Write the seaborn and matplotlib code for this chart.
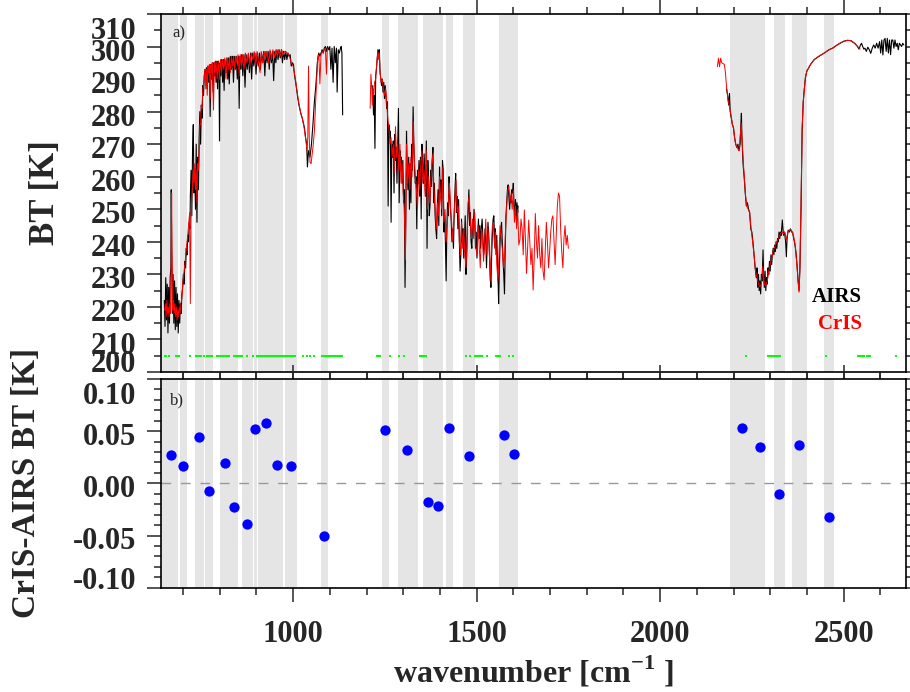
import numpy as np
import matplotlib
matplotlib.use("Agg")
import matplotlib.pyplot as plt
import matplotlib.transforms as mtransforms
from matplotlib.ticker import MultipleLocator, FormatStrFormatter
import seaborn as sns

# ============================================================
# DATA
# ============================================================
# AIRS spectrum, three detector bands: (wavenumber, BT)
airs_band1 = [
    (649, 222), (651, 214), (653, 229), (655, 216), (657, 227), (659, 212), (661, 226), (663, 215),
    (665, 229), (667, 232), (668, 256), (669, 240), (671, 218), (673, 230), (675, 215), (677, 228),
    (679, 213), (681, 226), (683, 214), (685, 224), (687, 212), (689, 222), (691, 215), (693, 221),
    (695, 218), (697, 224), (699, 226), (701, 230), (703, 227), (705, 234), (707, 232), (709, 238),
    (711, 236), (713, 242), (715, 240), (717, 246), (719, 244), (720, 254), (722, 262), (724, 248),
    (726, 268), (728, 276), (730, 255), (732, 262), (734, 250), (736, 270), (738, 246), (740, 266),
    (742, 256), (744, 272), (746, 280), (748, 270), (750, 282), (752, 278), (754, 288), (756, 285),
    (758, 291), (760, 293), (762, 290), (764, 293.5), (766, 287), (768, 294), (770, 289), (772, 294),
    (774, 278.5), (776, 294.5), (778, 290), (780, 295), (782, 286), (784, 295), (786, 291), (788, 295.5),
    (790, 289), (792, 295.5), (794, 287), (796, 295.5), (798, 292), (799.5, 271), (801, 295), (803, 291),
    (805, 296), (808, 289), (810, 296), (812, 286.5), (814, 296), (817, 292), (820, 296.5), (822, 290),
    (824, 296.5), (826, 288.5), (829, 297), (832, 293), (835, 297), (837.5, 289), (840, 297), (843, 293),
    (845, 297), (848, 290), (851, 297), (853, 281), (855, 297), (858, 293), (860, 297.5), (863, 291),
    (866, 297.5), (869, 287.5), (872, 297.5), (875, 293), (878, 297.5), (881, 292), (884, 298), (887, 290),
    (890, 298), (893, 294), (896, 298), (899, 291.5), (902, 298), (905, 294), (908, 298), (911, 293),
    (914, 298), (917, 295), (920, 298.5), (923, 291), (926, 298.5), (929, 295), (932, 298.5), (935, 293),
    (938, 298.5), (941, 295), (944, 298.5), (947, 289.5), (950, 298.5), (953, 295), (956, 299), (959, 296),
    (962, 299), (965, 296.5), (968, 299), (971, 295), (974, 298.5), (977, 296), (980, 298.5), (983, 296),
    (986, 298), (989, 297), (992, 297.5), (995, 294), (998, 295), (1001, 294.5), (1004, 291), (1007, 289),
    (1010, 286.5), (1013, 284), (1016, 282), (1019, 280.5), (1022, 279), (1025, 278), (1028, 276.5),
    (1031, 275), (1034, 272), (1037, 270), (1039, 263), (1042, 268), (1046, 266), (1050, 270), (1054, 276),
    (1058, 283), (1062, 288), (1066, 295), (1068, 297), (1070, 298), (1073, 297), (1076, 298), (1079, 299),
    (1082, 298), (1085, 299.5), (1088, 300), (1091, 298.5), (1094, 300), (1097, 299), (1100, 300),
    (1103, 293), (1106, 299.5), (1109, 289), (1112, 300), (1115, 295), (1118, 299.5), (1120, 286),
    (1123, 299), (1126, 298), (1129, 299.5), (1131, 300), (1133, 298), (1135, 279),
]
airs_band2 = [
    (1217, 288), (1219, 279), (1221, 285), (1223, 268.7), (1225, 291), (1227, 293), (1229, 296), (1231, 299),
    (1233, 297), (1235, 299), (1237, 292), (1239, 290), (1241, 288), (1243, 290), (1245, 286), (1247, 289),
    (1249, 284), (1251, 288), (1253, 285), (1255, 281), (1257, 283), (1259, 251), (1261, 276), (1263, 272),
    (1265, 274), (1267, 246), (1269, 270), (1271, 266), (1273, 271), (1275, 255), (1277, 273), (1279, 265),
    (1281, 269), (1283, 258), (1285, 270), (1287, 281), (1289, 252), (1291, 268), (1293, 262), (1295, 266),
    (1297, 258), (1299, 265), (1301, 252), (1303, 256), (1305, 226), (1307, 246), (1309, 274), (1311, 262),
    (1313, 256), (1315, 266), (1317, 250), (1319, 264), (1321, 252), (1323, 270), (1325, 262), (1327, 281.5),
    (1329, 270), (1331, 262), (1333, 258), (1335, 260), (1337, 244), (1339, 262), (1341, 258), (1343, 265),
    (1345, 254), (1347, 266), (1349, 247), (1351, 270), (1353, 262), (1355, 258), (1357, 267), (1359, 260),
    (1361, 254), (1363, 271), (1365, 238), (1367, 265), (1369, 259), (1371, 248), (1373, 251), (1375, 262),
    (1377, 257), (1379, 265), (1381, 269), (1383, 252), (1385, 258), (1387, 248), (1389, 244), (1391, 241),
    (1393, 250), (1395, 256), (1397, 245), (1399, 263), (1401, 255), (1403, 259), (1405, 248), (1407, 265),
    (1409, 262), (1411, 243), (1413, 248), (1415, 240), (1417, 228), (1419, 245), (1421, 252), (1423, 248),
    (1425, 260), (1427, 254), (1429, 250), (1431, 246), (1433, 240), (1435, 244), (1437, 238), (1439, 249),
    (1441, 256), (1443, 261), (1445, 249), (1447, 254), (1449, 244), (1451, 253), (1453, 240), (1455, 231),
    (1457, 236), (1459, 247), (1461, 240), (1463, 244), (1465, 235), (1467, 242), (1469, 248), (1471, 230),
    (1473, 236), (1475, 246), (1477, 250), (1479, 256), (1481, 245), (1483, 249), (1485, 240), (1487, 238),
    (1489, 246), (1491, 244), (1493, 250), (1495, 246), (1497, 238), (1499, 243), (1501, 235), (1503, 242),
    (1505, 247), (1507, 241), (1509, 245), (1511, 238), (1513, 244), (1515, 247), (1517, 242), (1519, 236),
    (1521, 238), (1523, 244), (1525, 240), (1527, 232), (1529, 240), (1531, 246), (1533, 242), (1535, 236),
    (1537, 230), (1539, 226), (1541, 236), (1543, 242), (1545, 247), (1547, 248), (1549, 240), (1551, 244),
    (1553, 236), (1555, 242), (1557, 233), (1559, 226), (1560, 221), (1562, 232), (1564, 240), (1566, 244),
    (1568, 246), (1570, 240), (1572, 235), (1574, 230), (1576, 224), (1578, 238), (1580, 248), (1582, 252),
    (1584, 256), (1586, 257.5), (1588, 254), (1590, 250), (1592, 254), (1594, 252), (1596, 256), (1598, 255),
    (1600, 258), (1602, 251), (1604, 248), (1606, 253), (1608, 247), (1610, 252), (1612, 249), (1613, 251),
]
airs_band3 = [
    (2181, 287), (2184, 285), (2187, 282), (2189, 285.6), (2191, 280), (2194, 278), (2197, 276), (2200, 275),
    (2203, 272), (2206, 270), (2209, 269), (2212, 270), (2215, 268), (2218, 270), (2220, 276), (2221.5, 279.5),
    (2223, 272), (2226, 264), (2229, 260), (2232, 255), (2235, 251), (2238, 252), (2241, 250), (2244, 249),
    (2247, 244), (2250, 243), (2253, 240), (2256, 236), (2259, 232), (2262, 229), (2264, 232), (2266, 226),
    (2268, 230), (2270, 225), (2272, 228), (2274, 224), (2276, 230), (2278, 228), (2280.5, 237.5), (2282, 230),
    (2284, 226), (2286, 231), (2288, 225), (2290, 229), (2292, 227), (2294, 232), (2296, 230), (2298, 234),
    (2300, 231), (2302, 236), (2304, 233), (2306, 236), (2308, 238), (2310, 236), (2312, 239), (2314, 237),
    (2316, 240), (2318, 238), (2320, 241), (2322, 240), (2324, 243), (2326, 241), (2328, 243), (2330, 242),
    (2333, 246.7), (2336, 242), (2339, 243), (2342, 240), (2344, 235.4), (2346, 241), (2349, 243.6),
    (2352, 243), (2355, 244), (2358, 243), (2361, 243), (2364, 241), (2367, 239.5), (2370, 237), (2373, 233),
    (2376, 228), (2378.5, 225), (2381, 232), (2384, 250), (2387, 274), (2390, 283), (2393, 287),
    (2396, 290.5), (2400, 292.5), (2405, 293.5), (2410, 294.5), (2420, 296), (2430, 296.8), (2440, 297.5),
    (2450, 298.2), (2460, 299), (2470, 299.5), (2480, 300.3), (2490, 301), (2500, 301.6), (2510, 301.9),
    (2520, 301.8), (2530, 301), (2538, 300), (2542, 299.2), (2546, 300.5), (2549, 301), (2552, 300),
    (2555, 299.2), (2558, 299.5), (2562, 298.5), (2566, 299.8), (2570, 299), (2574, 297.9), (2578, 299.5),
    (2582, 300.5), (2586, 299.5), (2590, 301), (2594, 299.5), (2598, 301.5), (2601, 298), (2604, 302),
    (2607, 297.4), (2610, 302), (2613, 302.5), (2616, 298.5), (2619, 302.5), (2622, 298), (2625, 302),
    (2628, 297.5), (2631, 302), (2634, 302), (2637, 299.5), (2640, 302), (2643, 300), (2646, 301),
    (2649, 299), (2652, 301), (2655, 300.5), (2658, 300), (2661, 301), (2664, 300.5),
]

# CrIS spectrum, three bands: (wavenumber, BT)
cris_band1 = [
    (650, 219), (652, 221), (654, 217), (656, 222), (658, 218), (660, 220), (662, 217), (664, 221),
    (666, 218), (668, 235), (669, 255), (670, 238), (672, 219), (674, 222), (676, 218), (678, 221),
    (680, 217), (682, 220), (684, 216), (686, 219), (688, 217), (690, 220), (692, 218), (694, 221),
    (696, 222), (698, 224), (700, 228), (703, 231), (706, 234), (709, 238), (712, 241), (715, 245),
    (718, 249), (720, 221), (722, 248), (724, 254), (726, 258), (728, 262), (730, 258), (732, 264),
    (734, 256), (736, 262), (738, 252), (740, 264), (742, 262), (744, 268), (746, 276), (748, 276),
    (750, 282), (752, 281), (754, 287), (756, 288), (758, 291), (760, 293), (762, 287), (764, 293),
    (766, 285), (768, 294), (770, 292), (772, 294.5), (774, 284), (776, 294.5), (778, 292), (780, 295),
    (783, 280.5), (786, 295), (788, 292), (790, 295.5), (793, 290), (796, 295.5), (799, 290), (802, 296),
    (805, 292), (808, 296), (811, 293), (814, 296.5), (817, 290), (820, 296.5), (823, 293), (826, 296.5),
    (829, 292), (832, 297), (835, 294), (838, 297), (841, 293), (844, 297), (847, 295), (850, 297.5),
    (853, 291), (856, 297.5), (859, 294), (862, 297.5), (866, 293), (870, 298), (874, 295), (878, 298),
    (882, 294), (886, 298), (890, 296), (894, 298.5), (898, 294), (902, 298.5), (906, 295), (910, 292),
    (913, 298.5), (917, 295), (921, 298.5), (925, 296), (929, 298.5), (933, 295), (937, 299), (941, 296),
    (945, 299), (949, 296.5), (953, 299), (957, 297), (961, 299), (965, 297), (969, 299), (973, 297.5),
    (977, 298.5), (981, 298), (985, 298), (990, 297), (995, 295), (1000, 294), (1005, 291), (1010, 287),
    (1015, 283), (1020, 280), (1025, 278), (1030, 275), (1035, 271), (1038, 268), (1040, 272), (1042, 294),
    (1044, 272), (1046, 264.5), (1049, 264), (1052, 267), (1055, 270), (1058, 274), (1061, 282),
    (1064, 289.5), (1067, 296), (1070, 297.5), (1073, 288.5), (1076, 297.5), (1079, 298.5), (1082, 298),
    (1085, 299), (1088, 299.5), (1091, 291.5), (1093, 299), (1095, 299.5),
]
cris_band2 = [
    (1210, 281), (1212, 291.5), (1214, 288), (1216, 282), (1218, 287), (1220, 285), (1222, 289), (1225, 290),
    (1228, 295), (1231, 298.5), (1233, 296), (1235, 298), (1237, 292), (1240, 289), (1243, 290), (1246, 287),
    (1249, 285), (1252, 287), (1255, 283), (1258, 278), (1261, 275), (1264, 270), (1267, 272), (1270, 266),
    (1273, 270), (1276, 261), (1279, 275.4), (1282, 266), (1285, 270), (1288, 262), (1291, 270), (1294, 258),
    (1297, 264), (1300, 255), (1303, 250), (1306, 234.4), (1309, 270), (1312, 258), (1315, 264), (1318, 256),
    (1321, 266), (1324, 260), (1327, 277), (1330, 266), (1333, 260), (1336, 256), (1339, 250), (1342, 262),
    (1345, 256), (1348, 264), (1351, 268), (1354, 258), (1357, 262), (1360, 254), (1363, 268), (1366, 250),
    (1369, 260), (1372, 252), (1375, 258), (1378, 264), (1381, 267), (1384, 255), (1387, 250), (1390, 244),
    (1393, 252), (1396, 248), (1399, 260), (1402, 253), (1405, 250), (1408, 263), (1411, 246), (1414, 250),
    (1417, 240), (1420, 245), (1423, 252), (1426, 258), (1429, 250), (1432, 246), (1435, 240), (1438, 247),
    (1441, 253), (1444, 259), (1447, 249), (1450, 251), (1453, 240), (1456, 236), (1459, 246), (1462, 238),
    (1465, 244), (1468, 236), (1471, 232), (1474, 240), (1477, 252), (1480, 254), (1483, 246), (1486, 241),
    (1489, 247), (1492, 241), (1495, 249), (1498, 238), (1501, 236), (1504, 245), (1507, 239), (1510, 232),
    (1513, 244), (1516, 241), (1519, 234), (1522, 240), (1525, 247), (1528, 236), (1531, 244), (1534, 240),
    (1537, 228), (1540, 238), (1543, 245), (1546, 246), (1549, 238), (1552, 243), (1555, 233), (1558, 228),
    (1561, 236), (1564, 245), (1567, 241), (1570, 238), (1573, 232), (1576, 235), (1579, 244), (1582, 251),
    (1585, 256), (1588, 257), (1591, 252), (1594, 255), (1597, 250), (1600, 256), (1603, 246), (1606, 251),
    (1609, 244), (1612, 250), (1615, 239), (1618, 240.6), (1621, 247), (1624, 244), (1627, 236),
    (1630, 249.8), (1633, 241), (1636, 230.3), (1639, 238), (1642, 246.7), (1645, 240), (1648, 233),
    (1651, 238), (1654, 225.2), (1657, 235), (1660, 248.7), (1663, 240), (1666, 235), (1669, 245),
    (1672, 236), (1675, 232), (1678, 241), (1681, 231), (1684, 228.3), (1687, 237), (1690, 246), (1693, 240),
    (1696, 232), (1699, 237), (1702, 243), (1705, 247), (1708, 248), (1711, 240), (1714, 233), (1717, 242),
    (1720, 251), (1723, 255), (1726, 254), (1729, 244), (1732, 237), (1735, 232), (1738, 241), (1741, 245),
    (1744, 239), (1747, 242), (1750, 238),
]
cris_band3 = [
    (2156, 293.8), (2159, 296.4), (2162, 293.8), (2165, 296.4), (2168, 295), (2171, 294.8), (2175, 294.5),
    (2178, 292), (2181, 287.7), (2185, 283.6), (2189, 281.5), (2193, 279), (2197, 276), (2200, 275),
    (2203, 272), (2206, 270), (2209, 269.2), (2212, 268.5), (2215, 268), (2218, 272), (2221, 276.5),
    (2224, 270), (2227, 264), (2230, 259), (2233, 254), (2236, 251), (2240, 250), (2244, 249), (2248, 244),
    (2252, 240), (2256, 236), (2260, 231), (2264, 229), (2268, 227), (2272, 226.2), (2276, 227),
    (2280, 232.5), (2284, 227), (2288, 226.5), (2292, 228), (2296, 231), (2300, 233), (2304, 235),
    (2308, 237), (2312, 238.5), (2316, 239.5), (2320, 240.5), (2324, 241.5), (2328, 242.5), (2332, 243),
    (2336, 242.5), (2340, 243), (2344, 240.5), (2348, 243), (2352, 243.5), (2356, 243.8), (2360, 243),
    (2364, 241.5), (2368, 239), (2372, 234), (2376, 228), (2378.5, 224.5), (2381, 232), (2384, 252),
    (2387, 275), (2390, 283), (2393, 287), (2396, 290.5), (2400, 292.5), (2405, 293.5), (2410, 294.5),
    (2420, 296), (2430, 296.8), (2440, 297.5), (2450, 298.2), (2460, 299), (2470, 299.5), (2480, 300.3),
    (2490, 301), (2500, 301.6), (2510, 301.9), (2520, 301.8), (2530, 301), (2538, 300), (2545, 299.2),
]

# selected channels (green marks near the bottom of panel a)
channel_wn = [
    651.5, 655, 660.6, 680.6, 684, 689.6, 717.8, 735.9, 740, 744, 749.5, 756.8,
    765, 767, 769, 771, 773, 775, 778.6, 792, 794, 796, 798, 800, 802, 804, 806, 808,
    810, 812, 814, 816, 818, 820, 822, 824, 839.4, 842, 845, 848, 851, 854, 857, 860.2,
    875.7, 892, 901, 903.5, 906, 908.5, 911, 913.5, 916, 918.5, 921, 923.5, 926, 928.5,
    931, 933.5, 936, 938.5, 941, 943.5, 946, 948.5, 951, 953.5, 956, 958.5, 961, 963.5,
    966, 968.5, 971, 973.5, 976, 978.5, 981, 983.5, 986, 988.5, 991, 993.5, 996, 998.5,
    1001, 1005, 1028, 1037, 1046, 1057, 1078, 1082, 1086, 1090, 1096, 1100, 1104, 1108,
    1112, 1116, 1120, 1124, 1128, 1132, 1228, 1232, 1237, 1264, 1289.5, 1302, 1346, 1350,
    1354, 1358, 1362, 1470, 1482, 1495, 1499, 1503, 1507, 1511, 1516, 1527, 1554, 1557,
    1560, 1563, 1588, 1598, 2233, 2294, 2298, 2302, 2306, 2310, 2314, 2318, 2322, 2326,
    2451, 2539, 2543, 2547, 2551, 2555, 2563, 2567, 2571, 2643,
]
channel_bt = 205.0

# shaded spectral regions (start, end) in cm-1
band_start = [640, 692, 733, 760, 801, 860, 894, 905.5, 978, 1076, 1241, 1285, 1355, 1416, 1462, 1562,
              2190, 2309, 2359, 2447]
band_end = [687.7, 710, 756, 783, 851, 890, 901, 973.5, 1010, 1094, 1262, 1339, 1409, 1435, 1495, 1613,
            2285, 2339, 2399, 2475]

# CrIS - AIRS mean BT difference per region
diff_wn = [666, 700, 744, 771, 815, 840, 874, 896.5, 926.5, 957, 994, 1085, 1251, 1311, 1368, 1395,
           1425, 1478, 1576, 1601.6, 2224, 2271, 2324, 2378, 2460]
diff_bt = [0.0272, 0.017, 0.0446, -0.0074, 0.0192, -0.0228, -0.0385, 0.0522, 0.0577, 0.0179, 0.017,
           -0.0503, 0.0516, 0.0317, -0.018, -0.0221, 0.0532, 0.0266, 0.0462, 0.0285, 0.0532, 0.0346,
           -0.0106, 0.0369, -0.0327]

# ============================================================
# STYLE
# ============================================================
sns.set_style("ticks")
plt.rcParams["font.family"] = ["Liberation Serif", "DejaVu Serif"]
plt.rcParams["font.weight"] = "bold"
plt.rcParams["axes.unicode_minus"] = False
plt.rcParams["mathtext.fontset"] = "custom"
plt.rcParams["mathtext.rm"] = "Liberation Serif:bold"
plt.rcParams["mathtext.bf"] = "Liberation Serif:bold"

XMIN, XMAX = 640, 2670
SHADE = "#e5e5e5"

fig = plt.figure(figsize=(9.1, 6.92), dpi=100)
ax1 = fig.add_axes([0.1769, 0.4624, 0.8187, 0.5174])
ax2 = fig.add_axes([0.1769, 0.1507, 0.8187, 0.3016])

for ax in (ax1, ax2):
    for lo, hi in zip(band_start, band_end):
        ax.axvspan(lo, hi, color=SHADE, lw=0, zorder=0)

# ---- panel a: spectra ----
for seg in (airs_band1, airs_band2, airs_band3):
    wn, bt = np.array(seg).T
    sns.lineplot(x=wn, y=bt, ax=ax1, color="black", lw=0.8, sort=False, estimator=None)
for seg in (cris_band1, cris_band2, cris_band3):
    wn, bt = np.array(seg).T
    sns.lineplot(x=wn, y=bt, ax=ax1, color="red", lw=0.7, sort=False, estimator=None)

sns.scatterplot(x=channel_wn, y=[channel_bt] * len(channel_wn), ax=ax1, color="#00ff00",
                marker="s", s=4, linewidth=0, zorder=3)

ax1.text(0.941, 0.210, "AIRS", transform=ax1.transAxes, ha="right", va="center",
         fontsize=15, fontweight="bold", color="black")
ax1.text(0.941, 0.134, "CrIS", transform=ax1.transAxes, ha="right", va="center",
         fontsize=15, fontweight="bold", color="red")
ax1.text(0.015, 0.945, "a)", transform=ax1.transAxes, ha="left", va="center",
         fontsize=12, fontweight="normal")

ax1.set_xlim(XMIN, XMAX)
ax1.set_ylim(200, 310)
ax1.set_yticks(list(range(200, 311, 10)))
ax1.yaxis.set_major_formatter(FormatStrFormatter("%d"))
ax1.yaxis.set_minor_locator(MultipleLocator(5))
ax1.set_ylabel("BT [K]", fontsize=25, fontweight="bold")
ax1.yaxis.set_label_coords(-0.133, 0.5)
ax1.tick_params(axis="x", labelbottom=False)

# ---- panel b: differences ----
ax2.axhline(0, color="#999999", lw=1.0, ls=(0, (7, 7)), zorder=1)
sns.scatterplot(x=diff_wn, y=diff_bt, ax=ax2, color="blue", s=55, linewidth=0, zorder=3)
ax2.text(0.012, 0.897, "b)", transform=ax2.transAxes, ha="left", va="center",
         fontsize=12, fontweight="normal")

ax2.set_xlim(XMIN, XMAX)
ax2.set_ylim(-0.10, 0.10)
ax2.set_yticks([-0.10, -0.05, 0.0, 0.05, 0.10])
ax2.yaxis.set_major_formatter(FormatStrFormatter("%.2f"))
ax2.yaxis.set_minor_locator(MultipleLocator(0.01))
ax2.set_ylabel("CrIS-AIRS BT [K]", fontsize=24, fontweight="bold")
ax2.yaxis.set_label_coords(-0.160, 0.5)
ax2.set_xlabel(r"wavenumber [cm$^{\mathbf{-1}}$ ]", fontsize=23, fontweight="bold", labelpad=4)

# ---- axes frames and ticks ----
for ax in (ax1, ax2):
    ax.xaxis.set_major_locator(MultipleLocator(500))
    ax.xaxis.set_minor_locator(MultipleLocator(100))
    ax.tick_params(which="both", direction="out", top=True, right=True, labelsize=22,
                   width=1.1, pad=8)
    ax.tick_params(which="major", length=10)
    ax.tick_params(which="minor", length=5)
    for sp in ax.spines.values():
        sp.set_linewidth(1.2)
        sp.set_color("black")
    for lab in ax.get_yticklabels() + ax.get_xticklabels():
        lab.set_fontweight("bold")
ax2.tick_params(axis="x", pad=13)


def shift_ylabels(ax, first_pt, last_pt, other_pt):
    # IDL style: the end labels sit inside the axis range
    labels = ax.get_yticklabels()
    for i, lab in enumerate(labels):
        dy = other_pt
        if i == 0:
            dy = first_pt
        elif i == len(labels) - 1:
            dy = last_pt
        off = mtransforms.ScaledTranslation(0, -dy / 72.0, fig.dpi_scale_trans)
        lab.set_transform(lab.get_transform() + off)


shift_ylabels(ax1, -8, 10, 2.2)
shift_ylabels(ax2, -7, 10, 2.0)

fig.savefig("out.png", dpi=100)
